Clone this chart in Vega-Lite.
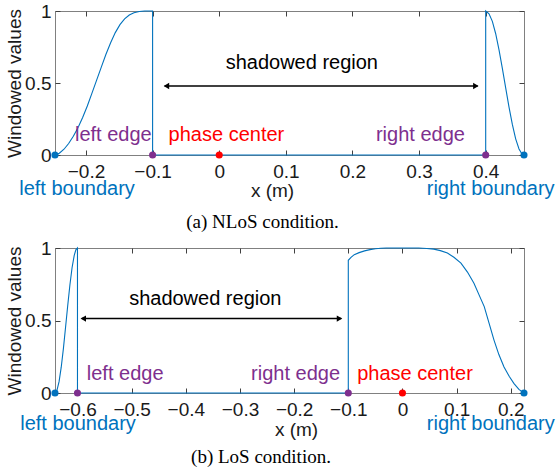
{
  "$schema": "https://vega.github.io/schema/vega-lite/v6.json",
  "background": "white",
  "padding": {"left": 4, "top": 1, "right": 0, "bottom": 0},
  "spacing": 5,
  "config": {
    "view": {"stroke": "#808080", "strokeWidth": 1},
    "axis": {"labelFont": "Liberation Sans Narrow, Liberation Sans", "titleFont": "Liberation Sans Narrow, Liberation Sans", "labelColor": "#1a1a1a", "titleColor": "#1a1a1a", "tickColor": "#404040", "labelFontSize": 19, "titleFontSize": 19, "titleFontWeight": "normal", "grid": false, "domain": false, "labelFlush": false, "labelOverlap": false},
    "legend": {"disable": true}
  },
  "vconcat": [
    {
      "width": 469, "height": 144,
      "title": {"text": "(a) NLoS condition.", "orient": "bottom", "anchor": "middle", "frame": "group", "dx": -27, "offset": 13, "font": "Liberation Serif", "fontSize": 19, "fontWeight": "normal", "color": "#000000"},
      "resolve": {"axis": {"x": "independent", "y": "independent"}},
      "layer": [
        {
          "data": {"values": [
            {"i": 1, "x": -0.2465, "v": 0}, {"i": 2, "x": -0.240, "v": 0.012}, {"i": 3, "x": -0.233, "v": 0.04},
            {"i": 4, "x": -0.226, "v": 0.08}, {"i": 5, "x": -0.219, "v": 0.13}, {"i": 6, "x": -0.212, "v": 0.19},
            {"i": 7, "x": -0.205, "v": 0.26}, {"i": 8, "x": -0.198, "v": 0.34}, {"i": 9, "x": -0.191, "v": 0.43},
            {"i": 10, "x": -0.184, "v": 0.52}, {"i": 11, "x": -0.177, "v": 0.61}, {"i": 12, "x": -0.170, "v": 0.70},
            {"i": 13, "x": -0.163, "v": 0.78}, {"i": 14, "x": -0.156, "v": 0.85}, {"i": 15, "x": -0.149, "v": 0.905},
            {"i": 16, "x": -0.142, "v": 0.945}, {"i": 17, "x": -0.135, "v": 0.972}, {"i": 18, "x": -0.128, "v": 0.988},
            {"i": 19, "x": -0.120, "v": 0.997}, {"i": 20, "x": -0.112, "v": 1.0}, {"i": 21, "x": -0.1, "v": 1.0},
            {"i": 22, "x": -0.1, "v": 0}, {"i": 23, "x": 0.4, "v": 0}, {"i": 24, "x": 0.4, "v": 1},
            {"i": 25, "x": 0.405, "v": 0.981}, {"i": 26, "x": 0.410, "v": 0.928}, {"i": 27, "x": 0.415, "v": 0.842},
            {"i": 28, "x": 0.420, "v": 0.730}, {"i": 29, "x": 0.425, "v": 0.601}, {"i": 30, "x": 0.430, "v": 0.466},
            {"i": 31, "x": 0.435, "v": 0.332}, {"i": 32, "x": 0.440, "v": 0.212}, {"i": 33, "x": 0.445, "v": 0.112},
            {"i": 34, "x": 0.450, "v": 0.042}, {"i": 35, "x": 0.4545, "v": 0.007}, {"i": 36, "x": 0.4575, "v": 0}
          ]},
          "mark": {"type": "line", "color": "#0072BD", "strokeWidth": 1.1},
          "encoding": {
            "x": {"field": "x", "type": "quantitative", "scale": {"domain": [-0.2465, 0.4575], "nice": false, "zero": false},
                  "axis": {"orient": "bottom", "values": [-0.2, -0.1, 0, 0.1, 0.2, 0.3, 0.4], "format": "~g", "title": "x (m)", "titleX": 217, "titleY": 35, "titleBaseline": "middle", "titleFontSize": 19, "tickSize": -5, "labelPadding": 12.5}},
            "y": {"field": "v", "type": "quantitative", "scale": {"domain": [0, 1], "nice": false, "zero": false},
                  "axis": {"orient": "left", "values": [0, 0.5, 1], "format": "~g", "title": "Windowed values", "tickSize": -5, "labelPadding": 9, "titlePadding": 0.5}},
            "order": {"field": "i", "type": "quantitative"}
          }
        },
        {
          "data": {"values": [
            {"x": -0.2465, "v": 0, "k": "boundary"}, {"x": -0.1, "v": 0, "k": "edge"}, {"x": 0, "v": 0, "k": "center"},
            {"x": 0.4, "v": 0, "k": "edge"}, {"x": 0.4575, "v": 0, "k": "boundary"}
          ]},
          "mark": {"type": "point", "filled": true, "size": 50, "opacity": 1},
          "encoding": {
            "x": {"field": "x", "type": "quantitative", "scale": {"domain": [-0.2465, 0.4575], "nice": false, "zero": false},
                  "axis": {"orient": "top", "values": [-0.2, -0.1, 0, 0.1, 0.2, 0.3, 0.4], "labels": false, "title": null, "tickSize": -5}},
            "y": {"field": "v", "type": "quantitative", "scale": {"domain": [0, 1], "nice": false, "zero": false},
                  "axis": {"orient": "right", "values": [0, 0.5, 1], "labels": false, "title": null, "tickSize": -5}},
            "color": {"field": "k", "type": "nominal", "scale": {"domain": ["boundary", "edge", "center", "region"], "range": ["#0072BD", "#7E2F8E", "#FF0000", "#000000"]}, "legend": null}
          }
        },
        {
          "data": {"values": [{"x1": -0.082, "x2": 0.388, "v": 0.479}]},
          "mark": {"type": "rule", "color": "#000000", "strokeWidth": 1.5},
          "encoding": {
            "x": {"field": "x1", "type": "quantitative", "scale": {"domain": [-0.2465, 0.4575], "nice": false, "zero": false}, "axis": null},
            "x2": {"field": "x2"},
            "y": {"field": "v", "type": "quantitative", "scale": {"domain": [0, 1], "nice": false, "zero": false}, "axis": null}
          }
        },
        {
          "data": {"values": [{"x": -0.0792, "v": 0.479, "end": "left"}, {"x": 0.3852, "v": 0.479, "end": "right"}]},
          "mark": {"type": "point", "filled": true, "size": 40, "opacity": 1, "color": "#000000"},
          "encoding": {
            "x": {"field": "x", "type": "quantitative", "scale": {"domain": [-0.2465, 0.4575], "nice": false, "zero": false}, "axis": null},
            "y": {"field": "v", "type": "quantitative", "scale": {"domain": [0, 1], "nice": false, "zero": false}, "axis": null},
            "shape": {"field": "end", "type": "nominal", "scale": {"domain": ["left", "right"], "range": ["triangle-left", "triangle-right"]}, "legend": null}
          }
        },
        {
          "data": {"values": [
            {"x": 0.124, "v": 0.637, "label": "shadowed region", "k": "region"},
            {"x": -0.159, "v": 0.14, "label": "left edge", "k": "edge"},
            {"x": 0.0108, "v": 0.14, "label": "phase center", "k": "center"},
            {"x": 0.302, "v": 0.14, "label": "right edge", "k": "edge"},
            {"x": -0.2134, "v": -0.237, "label": "left boundary", "k": "boundary"},
            {"x": 0.4075, "v": -0.237, "label": "right boundary", "k": "boundary"}
          ]},
          "mark": {"type": "text", "font": "Liberation Sans", "fontSize": 20, "align": "center", "baseline": "middle"},
          "encoding": {
            "x": {"field": "x", "type": "quantitative", "scale": {"domain": [-0.2465, 0.4575], "nice": false, "zero": false}, "axis": null},
            "y": {"field": "v", "type": "quantitative", "scale": {"domain": [0, 1], "nice": false, "zero": false}, "axis": null},
            "text": {"field": "label"},
            "color": {"field": "k", "type": "nominal", "scale": {"domain": ["boundary", "edge", "center", "region"], "range": ["#0072BD", "#7E2F8E", "#FF0000", "#000000"]}, "legend": null}
          }
        }
      ]
    },
    {
      "width": 469, "height": 145,
      "title": {"text": "(b) LoS condition.", "orient": "bottom", "anchor": "middle", "frame": "group", "dx": -28.5, "offset": 9, "font": "Liberation Serif", "fontSize": 19, "fontWeight": "normal", "color": "#000000"},
      "resolve": {"axis": {"x": "independent", "y": "independent"}},
      "layer": [
        {
          "data": {"values": [
            {"i": 1, "x": -0.6415, "v": 0}, {"i": 2, "x": -0.638, "v": 0.017}, {"i": 3, "x": -0.634, "v": 0.078},
            {"i": 4, "x": -0.630, "v": 0.178}, {"i": 5, "x": -0.626, "v": 0.306}, {"i": 6, "x": -0.622, "v": 0.453},
            {"i": 7, "x": -0.618, "v": 0.603}, {"i": 8, "x": -0.614, "v": 0.745}, {"i": 9, "x": -0.610, "v": 0.864},
            {"i": 10, "x": -0.606, "v": 0.949}, {"i": 11, "x": -0.603, "v": 0.987}, {"i": 12, "x": -0.6, "v": 1},
            {"i": 13, "x": -0.6, "v": 0}, {"i": 14, "x": -0.1, "v": 0}, {"i": 15, "x": -0.1, "v": 0.915},
            {"i": 16, "x": -0.095, "v": 0.935}, {"i": 17, "x": -0.089, "v": 0.954}, {"i": 18, "x": -0.080, "v": 0.968},
            {"i": 19, "x": -0.070, "v": 0.980}, {"i": 20, "x": -0.060, "v": 0.989}, {"i": 21, "x": -0.050, "v": 0.995},
            {"i": 22, "x": -0.040, "v": 0.998}, {"i": 23, "x": -0.030, "v": 1.0}, {"i": 24, "x": 0.030, "v": 1.0},
            {"i": 25, "x": 0.045, "v": 0.997}, {"i": 26, "x": 0.058, "v": 0.992}, {"i": 27, "x": 0.070, "v": 0.982},
            {"i": 28, "x": 0.083, "v": 0.965}, {"i": 29, "x": 0.095, "v": 0.936}, {"i": 30, "x": 0.108, "v": 0.896},
            {"i": 31, "x": 0.120, "v": 0.834}, {"i": 32, "x": 0.132, "v": 0.757}, {"i": 33, "x": 0.141, "v": 0.680},
            {"i": 34, "x": 0.151, "v": 0.596}, {"i": 35, "x": 0.160, "v": 0.48}, {"i": 36, "x": 0.169, "v": 0.365},
            {"i": 37, "x": 0.178, "v": 0.265}, {"i": 38, "x": 0.1875, "v": 0.18}, {"i": 39, "x": 0.197, "v": 0.115},
            {"i": 40, "x": 0.206, "v": 0.065}, {"i": 41, "x": 0.215, "v": 0.025}, {"i": 42, "x": 0.2244, "v": 0}
          ]},
          "mark": {"type": "line", "color": "#0072BD", "strokeWidth": 1.1},
          "encoding": {
            "x": {"field": "x", "type": "quantitative", "scale": {"domain": [-0.6415, 0.2244], "nice": false, "zero": false},
                  "axis": {"orient": "bottom", "values": [-0.6, -0.5, -0.4, -0.3, -0.2, -0.1, 0, 0.1, 0.2], "format": "~g", "title": "x (m)", "titleX": 241, "titleY": 36, "titleBaseline": "middle", "titleFontSize": 19, "tickSize": -5, "labelPadding": 12.5}},
            "y": {"field": "v", "type": "quantitative", "scale": {"domain": [0, 1], "nice": false, "zero": false},
                  "axis": {"orient": "left", "values": [0, 0.5, 1], "format": "~g", "title": "Windowed values", "tickSize": -5, "labelPadding": 9, "titlePadding": 0.5}},
            "order": {"field": "i", "type": "quantitative"}
          }
        },
        {
          "data": {"values": [
            {"x": -0.6415, "v": 0, "k": "boundary"}, {"x": -0.6, "v": 0, "k": "edge"}, {"x": -0.1, "v": 0, "k": "edge"},
            {"x": 0, "v": 0, "k": "center"}, {"x": 0.2244, "v": 0, "k": "boundary"}
          ]},
          "mark": {"type": "point", "filled": true, "size": 50, "opacity": 1},
          "encoding": {
            "x": {"field": "x", "type": "quantitative", "scale": {"domain": [-0.6415, 0.2244], "nice": false, "zero": false},
                  "axis": {"orient": "top", "values": [-0.6, -0.5, -0.4, -0.3, -0.2, -0.1, 0, 0.1, 0.2], "labels": false, "title": null, "tickSize": -5}},
            "y": {"field": "v", "type": "quantitative", "scale": {"domain": [0, 1], "nice": false, "zero": false},
                  "axis": {"orient": "right", "values": [0, 0.5, 1], "labels": false, "title": null, "tickSize": -5}},
            "color": {"field": "k", "type": "nominal", "scale": {"domain": ["boundary", "edge", "center", "region"], "range": ["#0072BD", "#7E2F8E", "#FF0000", "#000000"]}, "legend": null}
          }
        },
        {
          "data": {"values": [{"x1": -0.592, "x2": -0.113, "v": 0.513}]},
          "mark": {"type": "rule", "color": "#000000", "strokeWidth": 1.5},
          "encoding": {
            "x": {"field": "x1", "type": "quantitative", "scale": {"domain": [-0.6415, 0.2244], "nice": false, "zero": false}, "axis": null},
            "x2": {"field": "x2"},
            "y": {"field": "v", "type": "quantitative", "scale": {"domain": [0, 1], "nice": false, "zero": false}, "axis": null}
          }
        },
        {
          "data": {"values": [{"x": -0.5893, "v": 0.513, "end": "left"}, {"x": -0.1162, "v": 0.513, "end": "right"}]},
          "mark": {"type": "point", "filled": true, "size": 40, "opacity": 1, "color": "#000000"},
          "encoding": {
            "x": {"field": "x", "type": "quantitative", "scale": {"domain": [-0.6415, 0.2244], "nice": false, "zero": false}, "axis": null},
            "y": {"field": "v", "type": "quantitative", "scale": {"domain": [0, 1], "nice": false, "zero": false}, "axis": null},
            "shape": {"field": "end", "type": "nominal", "scale": {"domain": ["left", "right"], "range": ["triangle-left", "triangle-right"]}, "legend": null}
          }
        },
        {
          "data": {"values": [
            {"x": -0.364, "v": 0.651, "label": "shadowed region", "k": "region"},
            {"x": -0.512, "v": 0.134, "label": "left edge", "k": "edge"},
            {"x": -0.1974, "v": 0.134, "label": "right edge", "k": "edge"},
            {"x": 0.0231, "v": 0.134, "label": "phase center", "k": "center"},
            {"x": -0.599, "v": -0.212, "label": "left boundary", "k": "boundary"},
            {"x": 0.163, "v": -0.212, "label": "right boundary", "k": "boundary"}
          ]},
          "mark": {"type": "text", "font": "Liberation Sans", "fontSize": 20, "align": "center", "baseline": "middle"},
          "encoding": {
            "x": {"field": "x", "type": "quantitative", "scale": {"domain": [-0.6415, 0.2244], "nice": false, "zero": false}, "axis": null},
            "y": {"field": "v", "type": "quantitative", "scale": {"domain": [0, 1], "nice": false, "zero": false}, "axis": null},
            "text": {"field": "label"},
            "color": {"field": "k", "type": "nominal", "scale": {"domain": ["boundary", "edge", "center", "region"], "range": ["#0072BD", "#7E2F8E", "#FF0000", "#000000"]}, "legend": null}
          }
        }
      ]
    }
  ]
}
